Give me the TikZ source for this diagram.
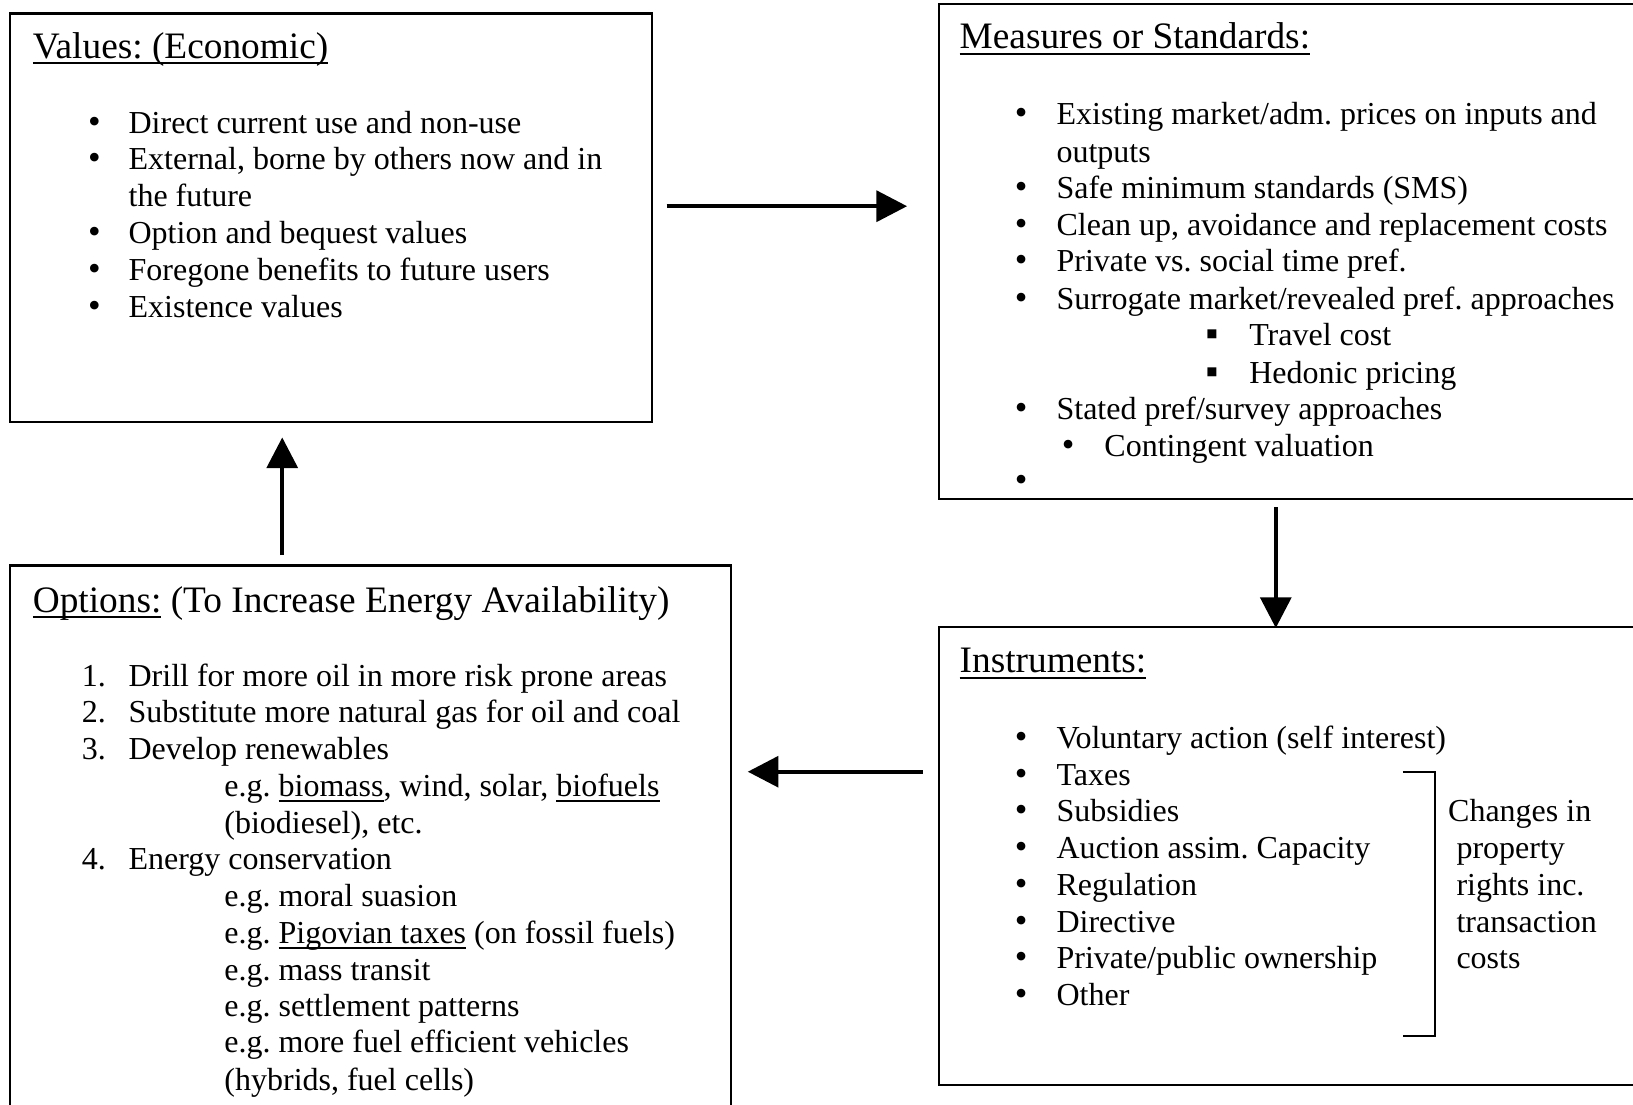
\documentclass[tikz,border=0pt]{standalone}
\usepackage{fontspec}
\setmainfont{Liberation Serif}
\usetikzlibrary{arrows.meta,fit}
\newcommand\myul[1]{\setbox0\hbox{#1}\rlap{\rule[-0.16em]{\wd0}{0.055em}}\box0\relax}
\frenchspacing
\begin{document}
\begin{tikzpicture}[x=0.3906pt,y=-0.3906pt,
  box/.style={draw, line width=0.8pt, inner sep=0pt},
  tx/.style={anchor=base west, inner sep=0pt, font=\fontsize{12}{14}\selectfont},
  bl/.style={anchor=base west, inner sep=0pt, font=\fontsize{13.5}{14}\selectfont},
  ttl/.style={anchor=base west, inner sep=0pt, font=\fontsize{14}{16}\selectfont},
  arr/.style={line width=1.6pt, -{Triangle[length=11.5pt,width=11.5pt]}},
  brk/.style={line width=0.8pt}]
\useasboundingbox (0,0) rectangle (1568,1061);
\fill[white] (0,0) rectangle (1568,1061);
\clip (0,0) rectangle (1568,1061);

% boxes
\node[box, fit={(10,13) (626,405)}] (vbox) {};
\node[box, fit={(902,4) (1590,479)}] (mbox) {};
\node[box, fit={(10,543) (702,1080)}] (obox) {};
\node[box, fit={(902,602) (1590,1042)}] (ibox) {};

% Values box
\node[ttl] (vt) at (31,56) {\myul{Values: (Economic)}};
\node[bl] (vb1) at (84,128) {•}; \node[tx] (v1) at (123,128) {Direct current use and non-use};
\node[bl] (vb2) at (84,163) {•}; \node[tx] (v2) at (123,163) {External, borne by others now and in};
\node[tx] (v3) at (123,198) {the future};
\node[bl] (vb4) at (84,234) {•}; \node[tx] (v4) at (123,234) {Option and bequest values};
\node[bl] (vb5) at (84,269) {•}; \node[tx] (v5) at (123,269) {Foregone benefits to future users};
\node[bl] (vb6) at (84,305) {•}; \node[tx] (v6) at (123,305) {Existence values};

% Measures box
\node[ttl] (mt) at (921,47) {\myul{Measures or Standards:}};
\node[bl] (mb1) at (974,120) {•}; \node[tx] (m1) at (1014,120) {Existing market/adm. prices on inputs and};
\node[tx] (m2) at (1014,156) {outputs};
\node[bl] (mb3) at (974,191) {•}; \node[tx] (m3) at (1014,191) {Safe minimum standards (SMS)};
\node[bl] (mb4) at (974,226) {•}; \node[tx] (m4) at (1014,226) {Clean up, avoidance and replacement costs};
\node[bl] (mb5) at (974,261) {•}; \node[tx] (m5) at (1014,261) {Private vs. social time pref.};
\node[bl] (mb6) at (974,297) {•}; \node[tx] (m6) at (1014,297) {Surrogate market/revealed pref. approaches};
\node[bl] (mb7) at (1157,332) {▪}; \node[tx] (m7) at (1199,332) {Travel cost};
\node[bl] (mb8) at (1157,368) {▪}; \node[tx] (m8) at (1199,368) {Hedonic pricing};
\node[bl] (mb9) at (974,403) {•}; \node[tx] (m9) at (1014,403) {Stated pref/survey approaches};
\node[bl] (mb10) at (1019,438) {•}; \node[tx] (m10) at (1060,438) {Contingent valuation};
\node[bl] (mb11) at (974,472) {•};

% Options box
\node[ttl] (ot) at (31,588) {\myul{Options:} (To Increase Energy Availability)};
\node[tx] (on1) at (78,659) {1.}; \node[tx] (o1) at (123,659) {Drill for more oil in more risk prone areas};
\node[tx] (on2) at (78,694) {2.}; \node[tx] (o2) at (123,694) {Substitute more natural gas for oil and coal};
\node[tx] (on3) at (78,729) {3.}; \node[tx] (o3) at (123,729) {Develop renewables};
\node[tx] (o4) at (215,765) {e.g. \myul{biomass}, wind, solar, \myul{biofuels}};
\node[tx] (o5) at (215,800) {(biodiesel), etc.};
\node[tx] (on6) at (78,835) {4.}; \node[tx] (o6) at (123,835) {Energy conservation};
\node[tx] (o7) at (215,870) {e.g. moral suasion};
\node[tx] (o8) at (215,906) {e.g. \myul{Pigovian taxes} (on fossil fuels)};
\node[tx] (o9) at (215,941) {e.g. mass transit};
\node[tx] (o10) at (215,976) {e.g. settlement patterns};
\node[tx] (o11) at (215,1011) {e.g. more fuel efficient vehicles};
\node[tx] (o12) at (215,1047) {(hybrids, fuel cells)};

% Instruments box
\node[ttl] (it) at (921,646) {\myul{Instruments:}};
\node[bl] (ib1) at (974,719) {•}; \node[tx] (i1) at (1014,719) {Voluntary action (self interest)};
\node[bl] (ib2) at (974,754) {•}; \node[tx] (i2) at (1014,754) {Taxes};
\node[bl] (ib3) at (974,789) {•}; \node[tx] (i3) at (1014,789) {Subsidies};
\node[bl] (ib4) at (974,824) {•}; \node[tx] (i4) at (1014,824) {Auction assim. Capacity};
\node[bl] (ib5) at (974,860) {•}; \node[tx] (i5) at (1014,860) {Regulation};
\node[bl] (ib6) at (974,895) {•}; \node[tx] (i6) at (1014,895) {Directive};
\node[bl] (ib7) at (974,930) {•}; \node[tx] (i7) at (1014,930) {Private/public ownership};
\node[bl] (ib8) at (974,965) {•}; \node[tx] (i8) at (1014,965) {Other};
\node[tx] (c1) at (1390,789) {Changes in};
\node[tx] (c2) at (1398,824) {property};
\node[tx] (c3) at (1398,860) {rights inc.};
\node[tx] (c4) at (1398,895) {transaction};
\node[tx] (c5) at (1398,930) {costs};
\coordinate (bka) at (1347,741);
\coordinate (bkb) at (1378,741);
\coordinate (bkc) at (1378,995);
\coordinate (bkd) at (1347,995);
\draw[brk] (bka) -- (bkb) -- (bkc) -- (bkd);

% arrows
\coordinate (r1) at (640,198); \coordinate (r2) at (871,198);
\coordinate (d1) at (1225,487); \coordinate (d2) at (1225,603);
\coordinate (l1) at (886,741); \coordinate (l2) at (718,741);
\coordinate (u1) at (271,533); \coordinate (u2) at (271,420);
\draw[arr] (r1) -- (r2);
\draw[arr] (d1) -- (d2);
\draw[arr] (l1) -- (l2);
\draw[arr] (u1) -- (u2);
\end{tikzpicture}
\end{document}
